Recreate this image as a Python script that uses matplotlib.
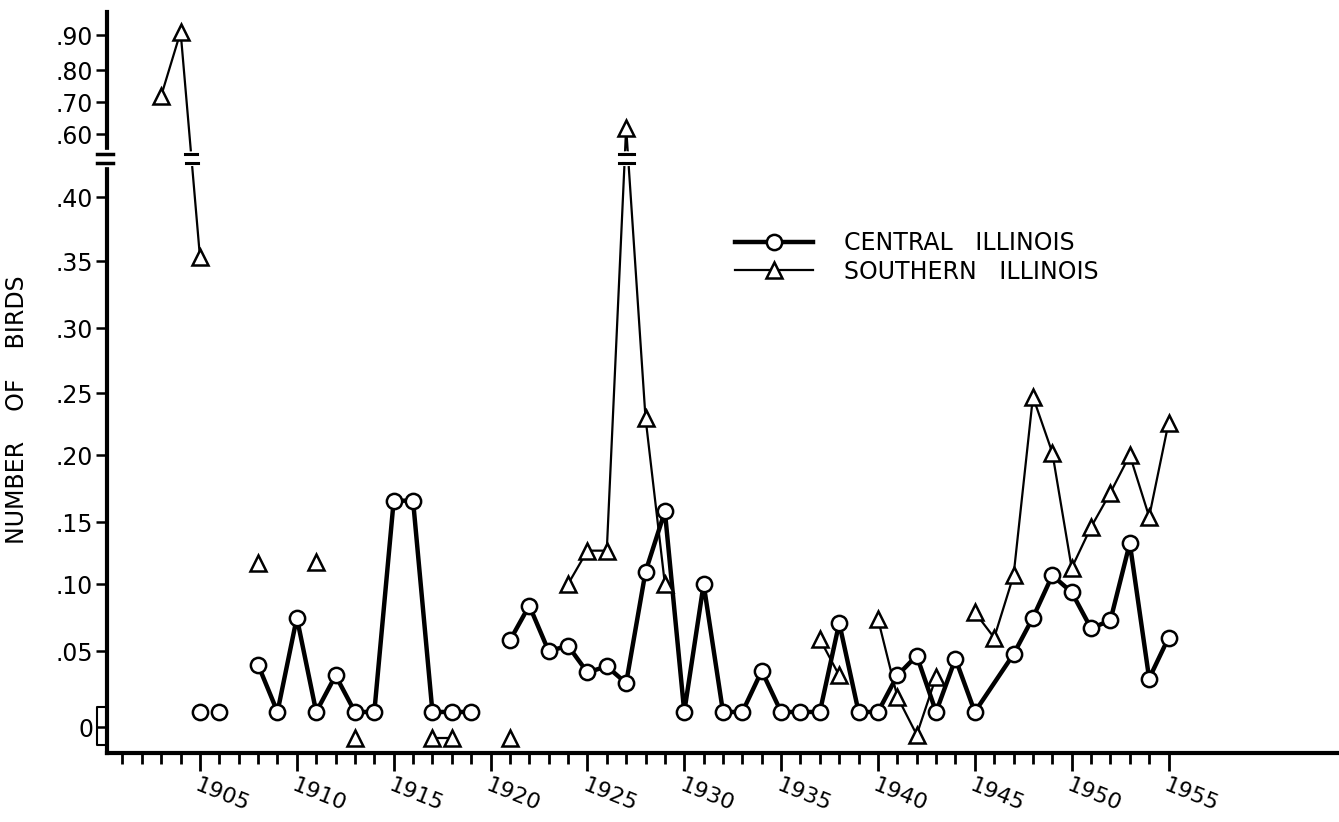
import numpy as np
import matplotlib
matplotlib.use("Agg")
import matplotlib.pyplot as plt
import matplotlib.transforms as mtransforms
from matplotlib.lines import Line2D

# central Illinois (circles)
central_years = [1905, 1906, 1908, 1909, 1910, 1911, 1912, 1913, 1914, 1915, 1916, 1917, 1918, 1919,
                 1921, 1922, 1923, 1924, 1925, 1926, 1927, 1928, 1929, 1930, 1931, 1932, 1933, 1934,
                 1935, 1936, 1937, 1938, 1939, 1940, 1941, 1942, 1943, 1944, 1945, 1947, 1948, 1949,
                 1950, 1951, 1952, 1953, 1954, 1955]
central_vals = [.01, .01, .041, .01, .075, .01, .034, .01, .01, .166, .166, .01, .01, .01,
                .058, .084, .05, .054, .036, .04, .029, .11, .158, .01, .10, .01, .01, .037,
                .01, .01, .01, .071, .01, .01, .034, .047, .01, .045, .01, .048, .075, .107,
                .094, .067, .073, .133, .032, .06]
central_runs = [(1908, 1919), (1921, 1955)]

# southern Illinois (triangles)
south_years = [1903, 1904, 1905, 1908, 1911, 1913, 1917, 1918, 1921, 1924, 1925, 1926, 1927, 1928,
               1929, 1937, 1938, 1940, 1941, 1942, 1943, 1945, 1946, 1947, 1948, 1949, 1950, 1951,
               1952, 1953, 1954, 1955]
south_vals = [.72, .91, .353, .117, .118, -.007, -.007, -.007, -.007, .10, .127, .127, .62, .23,
              .10, .059, .034, .074, .02, -.005, .033, .079, .06, .107, .247, .202, .113, .146,
              .172, .20, .154, .226]
south_runs = [(1903, 1905), (1917, 1918), (1924, 1929), (1937, 1938), (1940, 1943), (1945, 1955)]

ytick_vals = [0, .05, .10, .15, .20, .25, .30, .35, .40, .60, .70, .80, .90]
ytick_labels = ["0", ".05", ".10", ".15", ".20", ".25", ".30", ".35", ".40", ".60", ".70", ".80", ".90"]
xtick_major = list(range(1905, 1956, 5))

# hand drawn axis with a break between .40 and .60
scale_vals = np.array([-0.1, 0, .05, .10, .15, .20, .25, .30, .35, .40, .43, .53, .60, .70, .80, .90, 1.2])
scale_px = np.array([879, 727, 651, 584, 522, 455, 393, 328, 261, 197, 158, 156, 134, 102, 70, 35, -61])
brk_lo, brk_hi = 0.426, 0.536


def fwd(v):
    return np.interp(v, scale_vals, -scale_px)


def inv(p):
    return np.interp(p, -scale_px, scale_vals)


fig = plt.figure(figsize=(13.39, 8.22), dpi=100)
ax = fig.add_axes([107 / 1339, 69 / 822, 1232 / 1339, 741 / 822])
ax.set_yscale("function", functions=(fwd, inv))
ax.set_xlim(1900.2, 1963.8)
ax.set_ylim(-0.017, 0.972)


def draw_runs(years, vals, runs, lw):
    years = np.array(years)
    vals = np.array(vals)
    for a, b in runs:
        m = (years >= a) & (years <= b)
        ax.plot(years[m], vals[m], color="black", lw=lw, solid_capstyle="round", zorder=2)


draw_runs(central_years, central_vals, central_runs, 3.2)
draw_runs(south_years, south_vals, south_runs, 1.6)

ax.plot(central_years, central_vals, ls="none", marker="o", ms=11, mfc="white", mec="black", mew=1.8, zorder=4)
ax.plot(south_years, south_vals, ls="none", marker="^", ms=12, mfc="white", mec="black", mew=1.8, zorder=4)

# break marks on lines crossing the gap
sy = np.array(south_years)
sv = np.array(south_vals)
for a, b in south_runs:
    m = (sy >= a) & (sy <= b)
    xs, vs = sy[m], sv[m]
    for i in range(len(xs) - 1):
        lo, hi = min(vs[i], vs[i + 1]), max(vs[i], vs[i + 1])
        if lo < brk_lo and hi > brk_hi:
            p1, p2 = fwd(vs[i]), fwd(vs[i + 1])
            pts = []
            for bv in (brk_lo, brk_hi):
                t = (fwd(bv) - p1) / (p2 - p1)
                pts.append(xs[i] + (xs[i + 1] - xs[i]) * t)
            ax.plot(pts, [brk_lo, brk_hi], color="white", lw=4, zorder=3)
            for xb, bv in zip(pts, (brk_lo, brk_hi)):
                ax.plot([xb - 0.3, xb + 0.3], [bv, bv], color="black", lw=2.2, zorder=3)

# axis break on the y spine
trans = mtransforms.blended_transform_factory(ax.transAxes, ax.transData)
ax.plot([0, 0], [brk_lo, brk_hi], color="white", lw=6, transform=trans, clip_on=False, zorder=5)
for bv in (brk_lo, brk_hi):
    ax.plot([-0.008, 0.005], [bv, bv], color="black", lw=2.5, transform=trans, clip_on=False, zorder=6)
ax.plot([0, -0.008, -0.008, 0], [0.013, 0.013, -0.012, -0.012], color="black", lw=1.5,
        transform=trans, clip_on=False, zorder=6)

for s in ("top", "right"):
    ax.spines[s].set_visible(False)
for s in ("left", "bottom"):
    ax.spines[s].set_linewidth(3)

ax.set_yticks(ytick_vals)
ax.set_yticklabels(ytick_labels, fontsize=17)
ax.tick_params(axis="y", length=8, width=1.8, pad=2)

ax.set_xticks(xtick_major)
ax.set_xticks(range(1901, 1955), minor=True)
ax.set_xticklabels([str(y) for y in xtick_major], fontsize=16)
ax.tick_params(axis="x", which="major", length=13, width=2, pad=3)
ax.tick_params(axis="x", which="minor", length=8, width=2)
for lbl in ax.get_xticklabels():
    lbl.set_rotation(-22)
    lbl.set_ha("left")
    lbl.set_va("top")
    lbl.set_rotation_mode("anchor")

ax.set_ylabel("NUMBER    OF    BIRDS", fontsize=17)
ax.yaxis.set_label_coords(-0.063, 0.463)

handles = [
    Line2D([], [], color="black", lw=3.2, marker="o", ms=11, mfc="white", mec="black", mew=1.8),
    Line2D([], [], color="black", lw=1.6, marker="^", ms=12, mfc="white", mec="black", mew=1.8),
]
fig.legend(handles, ["CENTRAL   ILLINOIS", "SOUTHERN   ILLINOIS"], loc="upper left",
           bbox_to_anchor=(0.533, 0.745), frameon=False, fontsize=17, handlelength=3.3,
           handletextpad=1.3, labelspacing=0.2)

fig.savefig("out.png", dpi=100)
